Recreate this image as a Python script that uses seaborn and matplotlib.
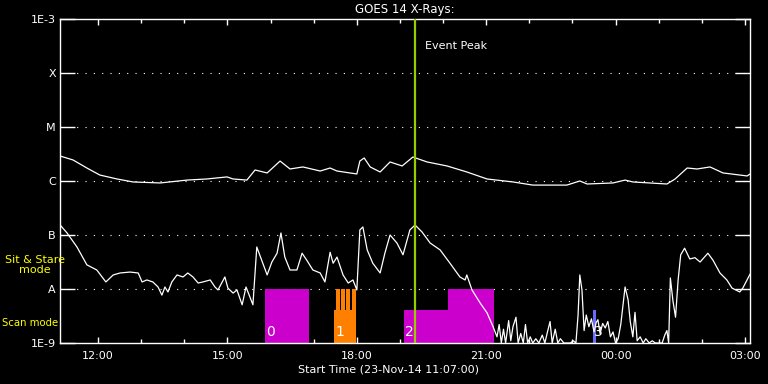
import numpy as np
import pandas as pd
import matplotlib
matplotlib.use("Agg")
import matplotlib.pyplot as plt
from matplotlib.ticker import FixedLocator, NullLocator
import seaborn as sns

# ---------------- data ----------------
# time in decimal hours since 23-Nov-14 00:00 (values > 24 are next day)
long_t = [11.12, 11.42, 11.74, 12.04, 12.44, 12.81, 13.44, 14.06, 14.52, 14.99, 15.13, 15.45,
          15.64, 15.92, 16.22, 16.45, 16.75, 17.15, 17.38, 17.54, 18.00, 18.07, 18.17, 18.31,
          18.54, 18.77, 19.05, 19.30, 19.63, 20.09, 20.55, 21.02, 21.62, 22.08, 22.87, 23.17,
          23.34, 23.94, 24.22, 24.40, 25.19, 25.38, 25.66, 25.89, 26.19, 26.49, 27.05, 27.12]
long_flux = [2.9e-6, 2.45e-6, 1.74e-6, 1.29e-6, 1.09e-6, 9.6e-7, 9.2e-7, 1.04e-6, 1.09e-6, 1.19e-6,
             1.09e-6, 1.04e-6, 1.60e-6, 1.41e-6, 2.34e-6, 1.67e-6, 1.82e-6, 1.53e-6, 1.74e-6, 1.53e-6,
             1.35e-6, 2.34e-6, 2.67e-6, 1.82e-6, 1.47e-6, 2.25e-6, 1.90e-6, 2.78e-6, 2.25e-6, 1.90e-6,
             1.47e-6, 1.09e-6, 9.6e-7, 8.4e-7, 8.4e-7, 1.0e-6, 8.8e-7, 9.2e-7, 1.04e-6, 9.6e-7,
             8.8e-7, 1.09e-6, 1.74e-6, 1.67e-6, 1.82e-6, 1.41e-6, 1.24e-6, 1.35e-6]

short_t = [11.12, 11.28, 11.51, 11.74, 11.97, 12.18, 12.35, 12.51, 12.74, 12.93, 13.02, 13.13,
           13.27, 13.39, 13.48, 13.55, 13.62, 13.71, 13.83, 13.97, 14.08, 14.20, 14.32, 14.43,
           14.60, 14.71, 14.78, 14.94, 15.01, 15.13, 15.22, 15.34, 15.43, 15.52, 15.59, 15.68,
           15.82, 15.92, 16.03, 16.15, 16.24, 16.33, 16.45, 16.61, 16.73, 16.84, 16.98, 17.15,
           17.26, 17.38, 17.45, 17.54, 17.68, 17.80, 17.91, 18.00, 18.07, 18.14, 18.24, 18.37,
           18.54, 18.65, 18.77, 18.93, 19.07, 19.23, 19.35, 19.51, 19.70, 19.93, 20.16, 20.39,
           20.51, 20.55, 20.67, 20.86, 21.02, 21.16, 21.25,
           21.30, 21.35, 21.40, 21.45, 21.52, 21.57, 21.62, 21.69, 21.74, 21.80, 21.86, 21.91,
           21.96, 22.02, 22.08, 22.15, 22.22, 22.30, 22.36, 22.42, 22.48, 22.53, 22.60, 22.66,
           22.72, 22.80, 22.88, 22.95, 23.02, 23.08, 23.13, 23.17, 23.22, 23.27, 23.32, 23.38,
           23.44, 23.50, 23.55, 23.59, 23.64, 23.70, 23.76, 23.82, 23.88, 23.94, 24.00, 24.06,
           24.12, 24.17, 24.22, 24.29, 24.34, 24.40, 24.45, 24.50, 24.57, 24.64, 24.70, 24.78,
           24.85, 24.92, 25.00, 25.08, 25.14, 25.19, 25.23, 25.27, 25.33, 25.39, 25.45, 25.51,
           25.60, 25.72, 25.84, 25.96, 26.06, 26.14, 26.26, 26.42, 26.58, 26.70, 26.88, 26.95, 27.12]
short_flux = [1.53e-7, 1.09e-7, 6.0e-8, 2.8e-8, 2.25e-8, 1.35e-8, 1.82e-8, 1.98e-8, 2.06e-8, 1.98e-8,
              1.35e-8, 1.47e-8, 1.35e-8, 1.09e-8, 7.7e-9, 1.09e-8, 8.8e-9, 1.35e-8, 1.82e-8, 1.67e-8,
              1.98e-8, 1.67e-8, 1.29e-8, 1.35e-8, 1.47e-8, 1.09e-8, 9.6e-9, 1.67e-8, 1.04e-8, 8.4e-9,
              9.6e-9, 5.1e-9, 1.09e-8, 7.1e-9, 5.1e-9, 6.0e-8, 3.0e-8, 1.82e-8, 3.16e-8, 4.6e-8,
              1.09e-7, 3.9e-8, 2.25e-8, 2.25e-8, 4.6e-8, 3.4e-8, 2.25e-8, 1.98e-8, 1.35e-8, 4.8e-8,
              3.0e-8, 3.9e-8, 1.82e-8, 1.29e-8, 1.47e-8, 9.6e-9, 1.24e-7, 1.41e-7, 5.3e-8, 3.0e-8,
              1.98e-8, 4.6e-8, 1.0e-7, 7.1e-8, 4.3e-8, 1.24e-7, 1.53e-7, 1.14e-7, 7.1e-8, 5.3e-8,
              3.0e-8, 1.67e-8, 1.47e-8, 1.82e-8, 9.6e-9, 5.5e-9, 3.6e-9, 2.0e-9, 1.3e-9,
              2.2e-9, 1.0e-9, 1.8e-9, 1.0e-9, 2.6e-9, 1.1e-9, 2.0e-9, 3.0e-9, 1.0e-9, 1.5e-9, 1.0e-9, 2.2e-9,
              1.0e-9, 1.3e-9, 1.0e-9, 1.2e-9, 1.0e-9, 1.4e-9, 1.0e-9, 1.6e-9, 2.5e-9, 1.0e-9, 1.8e-9, 1.0e-9,
              1.2e-9, 1.0e-9, 1.0e-9, 1.0e-9, 1.1e-9, 1.0e-9, 3.3e-9, 1.82e-8, 9.6e-9, 1.7e-9, 3.3e-9, 2.0e-9,
              2.8e-9, 1.6e-9, 2.4e-9, 2.7e-9, 1.5e-9, 2.3e-9, 1.9e-9, 2.5e-9, 1.3e-9, 1.6e-9, 1.0e-9, 1.2e-9,
              2.2e-9, 5.0e-9, 1.09e-8, 6.3e-9, 2.5e-9, 1.3e-9, 3.7e-9, 1.1e-9, 1.3e-9, 1.0e-9, 1.2e-9, 1.0e-9,
              1.1e-9, 1.0e-9, 1.0e-9, 1.0e-9, 1.4e-9, 1.7e-9, 1.0e-9, 1.6e-8, 6.0e-9, 3.0e-9, 1.47e-8, 4.3e-8,
              5.7e-8, 3.6e-8, 3.8e-8, 3.16e-8, 3.9e-8, 4.6e-8, 3.4e-8, 1.98e-8, 1.47e-8, 1.04e-8, 8.8e-9,
              1.04e-8, 1.9e-8]

# observing-mode blocks: start hour, end hour, top flux, colour
block_start = [15.87, 17.47, 17.52, 17.64, 17.76, 17.89, 19.09, 20.11, 23.48]
block_end   = [16.89, 17.98, 17.61, 17.73, 17.85, 17.97, 20.11, 21.18, 23.55]
block_top   = [1e-8, 4.1e-9, 1e-8, 1e-8, 1e-8, 1e-8, 4.1e-9, 1e-8, 4.1e-9]
block_color = ["#cc00cc", "#ff8000", "#ff8000", "#ff8000", "#ff8000", "#ff8000",
               "#cc00cc", "#cc00cc", "#6a6aff"]
block_labels = ["0", "1", "2", "3"]
block_label_x = [15.87, 17.47, 19.09, 23.48]

peak_hour = 19.35
y_ticks = [1e-9, 1e-8, 1e-7, 1e-6, 1e-5, 1e-4, 1e-3]
y_labels = ["1E-9", "A", "B", "C", "M", "X", "1E-3"]
x_ticks = [12, 15, 18, 21, 24, 27]
x_labels = ["12:00", "15:00", "18:00", "21:00", "00:00", "03:00"]
x_minor = list(range(12, 28))

# ---------------- plot ----------------
sns.set_style("dark")
plt.rcParams["font.family"] = ["DejaVu Sans"]

fig = plt.figure(figsize=(7.68, 3.84), dpi=100, facecolor="black")
ax = fig.add_axes([60 / 768, 41 / 384, 690 / 768, 324 / 384])
ax.set_facecolor("black")

for s, e, top, c in zip(block_start, block_end, block_top, block_color):
    ax.bar(s, top - 1e-9, width=e - s, bottom=1e-9, align="edge", color=c,
           linewidth=0, zorder=2)

df_long = pd.DataFrame({"t": long_t, "flux": long_flux})
df_short = pd.DataFrame({"t": short_t, "flux": short_flux})
sns.lineplot(data=df_long, x="t", y="flux", ax=ax, color="white", lw=0.9,
             estimator=None, sort=False, zorder=3)
sns.lineplot(data=df_short, x="t", y="flux", ax=ax, color="white", lw=0.9,
             estimator=None, sort=False, zorder=3)

ax.set_yscale("log")
ax.set_ylim(1e-9, 1e-3)
ax.set_xlim(11 + 7 / 60, 27 + 7 / 60)

ax.axvline(peak_hour, color="#99cc00", lw=1.6, zorder=4)
ax.annotate("Event Peak", xy=(peak_hour, 1e-3), xytext=(10, -27),
            textcoords="offset pixels", color="white", fontsize=8,
            ha="left", va="center")

for lab, lx in zip(block_labels, block_label_x):
    ax.annotate(lab, xy=(lx, 1e-9), xytext=(1, 4), textcoords="offset pixels",
                color="white", fontsize=10, ha="left", va="bottom", zorder=5)

# grid
for yv in y_ticks[1:-1]:
    ax.axhline(yv, color="white", lw=0.8, ls=(0, (1, 6.5)), zorder=1)

ax.yaxis.set_major_locator(FixedLocator(y_ticks))
ax.yaxis.set_minor_locator(NullLocator())
ax.set_yticklabels(y_labels)
ax.xaxis.set_major_locator(FixedLocator(x_ticks))
ax.xaxis.set_minor_locator(FixedLocator(x_minor))
ax.set_xticklabels(x_labels)

ax.tick_params(axis="y", which="major", direction="in", length=11, width=1,
               colors="white", labelsize=8, left=True, right=True, pad=3)
ax.tick_params(axis="x", which="major", direction="in", length=4.5, width=1,
               colors="white", labelsize=8, top=True, bottom=True, pad=6)
ax.tick_params(axis="x", which="minor", direction="in", length=3, width=1,
               colors="white", top=True, bottom=True)
for sp in ax.spines.values():
    sp.set_color("white")
    sp.set_linewidth(1)
    sp.set_visible(True)
ax.grid(False)
ax.set_xlabel("")
ax.set_ylabel("")

ax.set_title("GOES 14 X-Rays:", color="white", fontsize=8.5, pad=4)
fig.text(389 / 768, 1 - 369 / 384, "Start Time (23-Nov-14 11:07:00)",
         color="white", fontsize=8, ha="center", va="center")
fig.text(35 / 768, 1 - 265 / 384, "Sit & Stare\nmode", color="#ffff00",
         fontsize=8, ha="center", va="center", linespacing=1.1)
fig.text(2 / 768, 1 - 323 / 384, "Scan mode", color="#ffff00",
         fontsize=7.3, ha="left", va="center")

fig.savefig("out.png", dpi=100, facecolor="black")
